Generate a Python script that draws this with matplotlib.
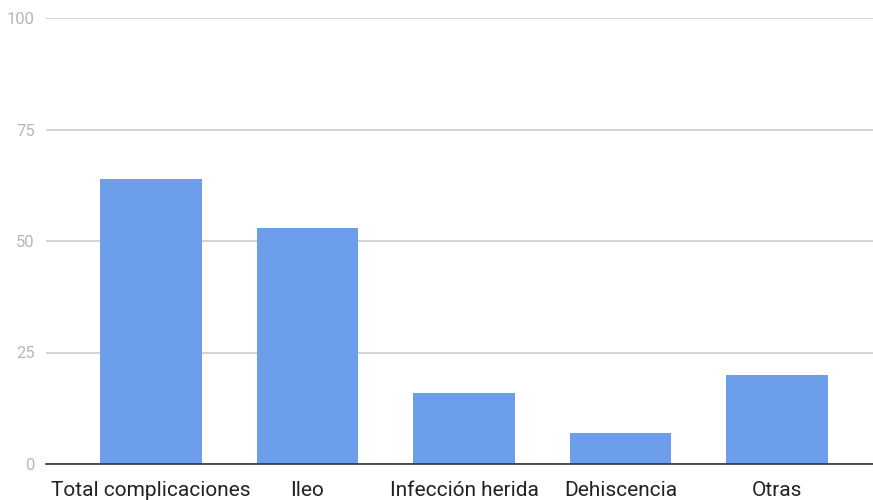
import matplotlib
matplotlib.use("Agg")
import matplotlib.pyplot as plt

categories = ["Total complicaciones", "Ileo", "Infección herida", "Dehiscencia", "Otras"]
values = [64, 53, 16, 7, 20]
y_ticks = [0, 25, 50, 75, 100]

plt.rcParams["font.family"] = ["Roboto", "DejaVu Sans"]

fig = plt.figure(figsize=(8.73, 5.0), dpi=100)
ax = fig.add_axes([46 / 873, 36 / 500, 1 - 46 / 873, (464 - 18) / 500])

x = list(range(len(categories)))
ax.bar(x, values, width=0.65, color="#6d9eeb", zorder=3)

ax.set_xlim(-0.671, 4.613)
ax.set_ylim(0, 100)
ax.set_yticks(y_ticks)
ax.set_yticklabels([str(t) for t in y_ticks])
ax.set_xticks(x)
ax.set_xticklabels(categories)

ax.yaxis.grid(True, color="#cccccc", linewidth=1.2, zorder=0)
ax.xaxis.grid(False)
for side in ("left", "right", "top"):
    ax.spines[side].set_visible(False)
ax.spines["bottom"].set_color("#333333")
ax.spines["bottom"].set_linewidth(1.2)
ax.spines["bottom"].set_zorder(4)

ax.tick_params(axis="y", length=0, pad=8, labelsize=12, labelcolor="#b7b7b7")
ax.tick_params(axis="x", length=0, pad=12, labelsize=15, labelcolor="#222222")

fig.savefig("out.png", dpi=100)
